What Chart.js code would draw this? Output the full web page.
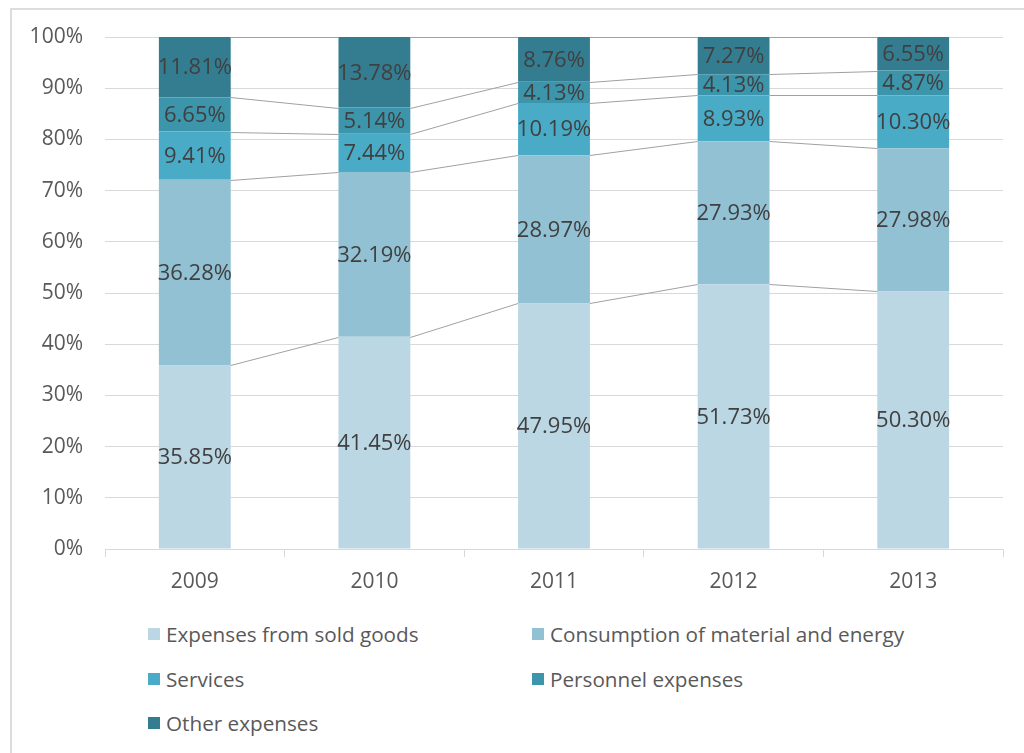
<!DOCTYPE html>
<html>
<head>
<meta charset="utf-8">
<script src="https://cdn.jsdelivr.net/npm/chart.js@4.4.1/dist/chart.umd.min.js"></script>
<style>
  html, body { margin: 0; padding: 0; background: #fff; }
  #frame {
    position: absolute; left: 10px; top: 8px;
    width: 1040px; height: 780px;
    border: 2px solid #dcdcdc;
    box-sizing: border-box;
  }
  #wrap { position: absolute; left: 0; top: 0; width: 1013px; height: 600px; }
  #legend {
    position: absolute; left: 0; top: 0; width: 1013px;
    font-family: 'Open Sans', sans-serif; font-size: 20.7px; color: #595959;
  }
  .item { position: absolute; display: flex; align-items: center; white-space: nowrap; }
  .box { width: 12px; height: 12px; margin-right: 6px; }
</style>
</head>
<body>
<div id="frame">
  <div id="wrap"><canvas id="chartCustos"></canvas></div>
  <div id="legend"></div>
</div>
<script>
// Anos e participação (%) de cada tipo de despesa
const years = ['2009', '2010', '2011', '2012', '2013'];
const soldGoods   = [35.85, 41.45, 47.95, 51.73, 50.30];
const consumption = [36.28, 32.19, 28.97, 27.93, 27.98];
const services    = [9.41, 7.44, 10.19, 8.93, 10.30];
const personnel   = [6.65, 5.14, 4.13, 4.13, 4.87];
const otherExp    = [11.81, 13.78, 8.76, 7.27, 6.55];
const seriesNames = ['Expenses from sold goods', 'Consumption of material and energy',
                     'Services', 'Personnel expenses', 'Other expenses'];
const yTicks = [0, 10, 20, 30, 40, 50, 60, 70, 80, 90, 100];

const palette = ['#bbd7e4', '#92c1d3', '#4aabc6', '#3c95ab', '#347d91'];
const fontFamily = "'Open Sans', sans-serif";

// linhas de série entre as barras (estilo Excel)
const seriesLines = {
    id: 'seriesLines',
    afterDatasetsDraw(chart) {
        const ctx = chart.ctx;
        ctx.save();
        ctx.strokeStyle = '#a0a0a0';
        ctx.lineWidth = 1;
        chart.data.datasets.forEach((ds, i) => {
            const bars = chart.getDatasetMeta(i).data;
            for (let j = 0; j < bars.length - 1; j++) {
                const a = bars[j].getProps(['x', 'y', 'width'], true);
                const b = bars[j + 1].getProps(['x', 'y', 'width'], true);
                ctx.beginPath();
                ctx.moveTo(a.x + a.width / 2, Math.round(a.y) + 0.5);
                ctx.lineTo(b.x - b.width / 2, Math.round(b.y) + 0.5);
                ctx.stroke();
            }
        });
        ctx.restore();
    }
};

// rótulos de valor no centro de cada segmento
const segmentLabels = {
    id: 'segmentLabels',
    afterDatasetsDraw(chart) {
        const ctx = chart.ctx;
        ctx.save();
        ctx.font = '22px ' + fontFamily;
        ctx.fillStyle = '#404040';
        ctx.textAlign = 'center';
        ctx.textBaseline = 'middle';
        chart.data.datasets.forEach((ds, i) => {
            chart.getDatasetMeta(i).data.forEach((bar, j) => {
                const p = bar.getProps(['x', 'y', 'base'], true);
                ctx.fillText(ds.data[j].toFixed(2) + '%', p.x, (p.y + p.base) / 2 + 1);
            });
        });
        ctx.restore();
    }
};

const seriesData = [soldGoods, consumption, services, personnel, otherExp];

const ctxCustos = document.getElementById('chartCustos').getContext('2d');
const chart = new Chart(ctxCustos, {
    type: 'bar',
    data: {
        labels: years,
        datasets: seriesData.map((d, i) => ({
            label: seriesNames[i],
            data: d,
            backgroundColor: palette[i],
            borderWidth: 0,
            barPercentage: 0.4,
            categoryPercentage: 1
        }))
    },
    options: {
        responsive: true,
        maintainAspectRatio: false,
        animation: false,
        layout: { padding: { left: 0, top: 27, right: 22, bottom: 0 } },
        plugins: {
            legend: { display: false },
            tooltip: { enabled: false }
        },
        scales: {
            x: {
                stacked: true,
                offset: true,
                afterFit: s => { s.height = 61; },
                grid: { offset: true, drawOnChartArea: false, color: '#d9d9d9', tickLength: 8 },
                border: { color: '#d9d9d9' },
                ticks: { color: '#595959', padding: 12, font: { family: fontFamily, size: 21 } }
            },
            y: {
                stacked: true,
                min: 0,
                max: 100,
                afterFit: s => {
                    s.width = 93;
                    s.paddingTop = 0;
                    s.paddingBottom = 0;
                },
                afterBuildTicks: s => { s.ticks = yTicks.map(v => ({ value: v })); },
                grid: { color: '#d9d9d9', drawTicks: false },
                border: { display: false },
                ticks: {
                    color: '#595959', padding: 22,
                    font: { family: fontFamily, size: 21 },
                    callback: v => v + '%'
                }
            }
        }
    },
    plugins: [seriesLines, segmentLabels]
});

// legenda em duas colunas montada a partir dos datasets
const legendPos = [[136, 624], [520, 624], [136, 669], [520, 669], [136, 713]];
const legendEl = document.getElementById('legend');
chart.data.datasets.forEach((ds, i) => {
    const item = document.createElement('div');
    item.className = 'item';
    item.style.left = legendPos[i][0] + 'px';
    item.style.top = (legendPos[i][1] - 14) + 'px';
    const box = document.createElement('span');
    box.className = 'box';
    box.style.background = ds.backgroundColor;
    const txt = document.createElement('span');
    txt.textContent = ds.label;
    item.appendChild(box);
    item.appendChild(txt);
    legendEl.appendChild(item);
});
</script>
</body>
</html>
